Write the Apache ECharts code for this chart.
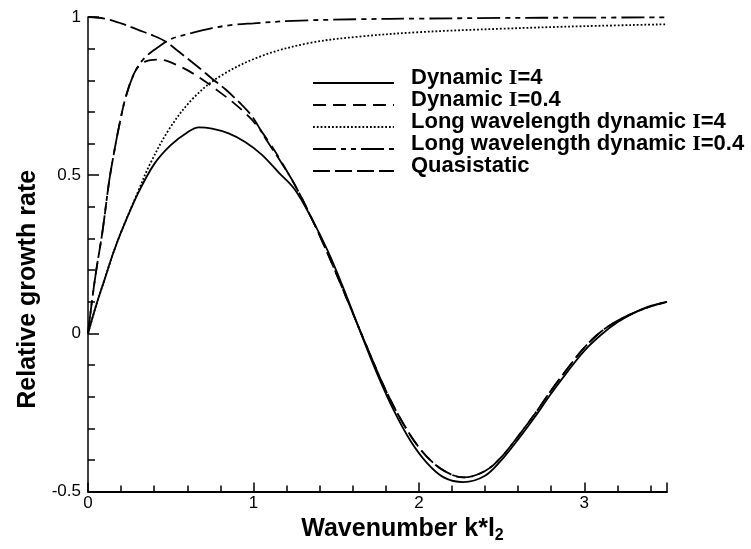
<!DOCTYPE html>
<html>
<head>
<meta charset="utf-8">
<script src="https://cdn.jsdelivr.net/npm/echarts@6/dist/echarts.min.js"></script>
<style>html,body{margin:0;padding:0;background:#fff}#c{width:751px;height:549px}</style>
</head>
<body>
<div id="c"></div>
<script>
// Wavenumber values (x) and relative growth rates (y)
const kDyn4 = [0, 0.05, 0.1, 0.15, 0.2, 0.3, 0.4, 0.5, 0.6, 0.67, 0.75, 0.85, 0.95, 1.05, 1.15, 1.25, 1.35, 1.45, 1.55, 1.65, 1.75, 1.85, 1.95, 2.05, 2.15, 2.27, 2.4, 2.5, 2.6, 2.7, 2.8, 2.9, 3.0, 3.1, 3.2, 3.3, 3.4, 3.5];
const gDyn4 = [0, 0.09, 0.17, 0.25, 0.32, 0.44, 0.535, 0.595, 0.635, 0.651, 0.647, 0.632, 0.605, 0.565, 0.51, 0.455, 0.365, 0.26, 0.135, 0.0, -0.13, -0.245, -0.34, -0.41, -0.455, -0.47, -0.45, -0.40, -0.335, -0.265, -0.19, -0.12, -0.055, -0.005, 0.035, 0.065, 0.087, 0.1];

const kDyn04 = [0, 0.026, 0.05, 0.087, 0.127, 0.15, 0.188, 0.23, 0.29, 0.35, 0.43, 0.55, 0.67, 0.79, 0.9, 1.0, 1.1, 1.2, 1.3, 1.4, 1.5, 1.6, 1.7, 1.8, 1.9, 2.0, 2.1, 2.2, 2.27, 2.4, 2.5, 2.6, 2.7, 2.8, 2.9, 3.0, 3.1, 3.2, 3.3, 3.4, 3.5];
const gDyn04 = [0, 0.11, 0.2, 0.32, 0.478, 0.55, 0.655, 0.75, 0.833, 0.86, 0.865, 0.845, 0.81, 0.765, 0.72, 0.67, 0.6, 0.515, 0.42, 0.31, 0.19, 0.065, -0.06, -0.18, -0.28, -0.36, -0.415, -0.447, -0.455, -0.435, -0.39, -0.325, -0.255, -0.18, -0.11, -0.045, 0.005, 0.04, 0.065, 0.085, 0.1];

const kLong4 = [0, 0.05, 0.1, 0.15, 0.2, 0.3, 0.37, 0.49, 0.63, 0.79, 1.04, 1.34, 1.64, 2.0, 2.5, 3.0, 3.5];
const gLong4 = [0, 0.09, 0.17, 0.25, 0.32, 0.445, 0.53, 0.645, 0.74, 0.81, 0.875, 0.918, 0.938, 0.952, 0.963, 0.971, 0.977];

const kLong04 = [0, 0.026, 0.05, 0.087, 0.127, 0.15, 0.188, 0.23, 0.29, 0.35, 0.43, 0.5, 0.63, 0.75, 0.873, 1.0, 1.24, 1.64, 2.0, 2.5, 3.0, 3.5];
const gLong04 = [0, 0.11, 0.2, 0.32, 0.478, 0.55, 0.655, 0.75, 0.833, 0.875, 0.907, 0.93, 0.95, 0.965, 0.975, 0.98, 0.988, 0.993, 0.995, 0.997, 0.998, 0.999];

const kQuasi = [0, 0.1, 0.2, 0.3, 0.4, 0.47, 0.55, 0.673, 0.75, 0.834, 0.956, 1.0, 1.077, 1.15, 1.25, 1.35, 1.4, 1.5, 1.6, 1.7, 1.8, 1.9, 2.0, 2.1, 2.2, 2.27, 2.4, 2.5, 2.6, 2.7, 2.8, 2.9, 3.0, 3.1, 3.2, 3.3, 3.4, 3.5];
const gQuasi = [1.0, 0.995, 0.98, 0.96, 0.94, 0.922, 0.89, 0.839, 0.805, 0.77, 0.708, 0.68, 0.613, 0.555, 0.47, 0.365, 0.31, 0.19, 0.065, -0.06, -0.18, -0.28, -0.36, -0.415, -0.447, -0.455, -0.435, -0.39, -0.325, -0.255, -0.18, -0.11, -0.045, 0.005, 0.04, 0.065, 0.085, 0.1];

const seriesNames = ['Dynamic I=4', 'Dynamic I=0.4', 'Long wavelength dynamic I=4', 'Long wavelength dynamic I=0.4', 'Quasistatic'];
const xTicks = [0, 1, 2, 3];
const yTicks = [-0.5, 0, 0.5, 1];

const zip = (xs, ys) => xs.map((x, i) => [x, ys[i]]);

const chart = echarts.init(document.getElementById('c'), null, {renderer: 'canvas'});
const mk = (name, xs, ys, type, width) => ({
  name, type: 'line', data: zip(xs, ys), symbol: 'none', smooth: 0.35,
  lineStyle: {color: '#000', width: width, type: type},
  itemStyle: {color: '#000'}, z: 3
});

chart.setOption({
  animation: false,
  backgroundColor: '#fff',
  grid: {left: 88, right: 84, top: 17, bottom: 56, containLabel: false},
  legend: {
    orient: 'vertical', left: 307, top: 62, itemGap: -5, itemWidth: 81, itemHeight: 14,
    data: seriesNames,
    itemStyle: {opacity: 0},
    formatter: n => n.replace('I=', '{s|I}='),
    textStyle: {
      fontFamily: 'Liberation Sans, Arial, sans-serif', fontSize: 22, fontWeight: 'bold', color: '#000',
      lineHeight: 12, padding: [0, 0, 10, 12],
      rich: {s: {fontFamily: 'Liberation Serif, serif', fontSize: 22, fontWeight: 'bold', lineHeight: 12, color: '#000'}}
    }
  },
  xAxis: {
    type: 'value', min: 0, max: 3.5, interval: 1,
    name: '{a|Wavenumber k*l}{b|2}', nameLocation: 'middle', nameGap: 18,
    nameTextStyle: {padding: [0, 0, 0, 50], rich: {
      a: {fontFamily: 'Liberation Sans, Arial, sans-serif', fontSize: 25, fontWeight: 'bold', color: '#000'},
      b: {fontFamily: 'Liberation Sans, Arial, sans-serif', fontSize: 16, fontWeight: 'bold', color: '#000', padding: [14, 0, 0, 0]}
    }},
    axisLine: {show: true, onZero: false, lineStyle: {color: '#000', width: 2}},
    axisTick: {show: true, inside: true, length: 9, lineStyle: {color: '#000', width: 1.5}},
    minorTick: {show: true, splitNumber: 5, length: 6, lineStyle: {color: '#000', width: 1.5}},
    axisLabel: {margin: 3, fontFamily: 'Liberation Sans, Arial, sans-serif', fontSize: 17, color: '#000',
      formatter: v => xTicks.includes(v) ? String(v) : ''},
    splitLine: {show: false}
  },
  yAxis: {
    type: 'value', min: -0.5, max: 1, interval: 0.5,
    name: 'Relative growth rate', nameLocation: 'middle', nameGap: 46,
    nameTextStyle: {fontFamily: 'Liberation Sans, Arial, sans-serif', fontSize: 25, fontWeight: 'bold', color: '#000', padding: [0, 70, 0, 0]},
    axisLine: {show: true, onZero: false, lineStyle: {color: '#000', width: 1.5}},
    axisTick: {show: true, inside: true, length: 11, lineStyle: {color: '#000', width: 1.5}},
    minorTick: {show: true, splitNumber: 5, length: 7, lineStyle: {color: '#000', width: 1.5}},
    axisLabel: {margin: 7, fontFamily: 'Liberation Sans, Arial, sans-serif', fontSize: 17, color: '#000',
      formatter: v => yTicks.includes(v) ? String(v) : ''},
    splitLine: {show: false}
  },
  series: [
    mk(seriesNames[0], kDyn4, gDyn4, 'solid', 1.8),
    mk(seriesNames[1], kDyn04, gDyn04, [13, 7], 1.8),
    mk(seriesNames[2], kLong4, gLong4, [1.8, 2], 1.8),
    mk(seriesNames[3], kLong04, gLong04, [23, 5, 5, 5, 5, 5], 1.8),
    mk(seriesNames[4], kQuasi, gQuasi, [17, 5], 1.8)
  ]
});
</script>
</body>
</html>
